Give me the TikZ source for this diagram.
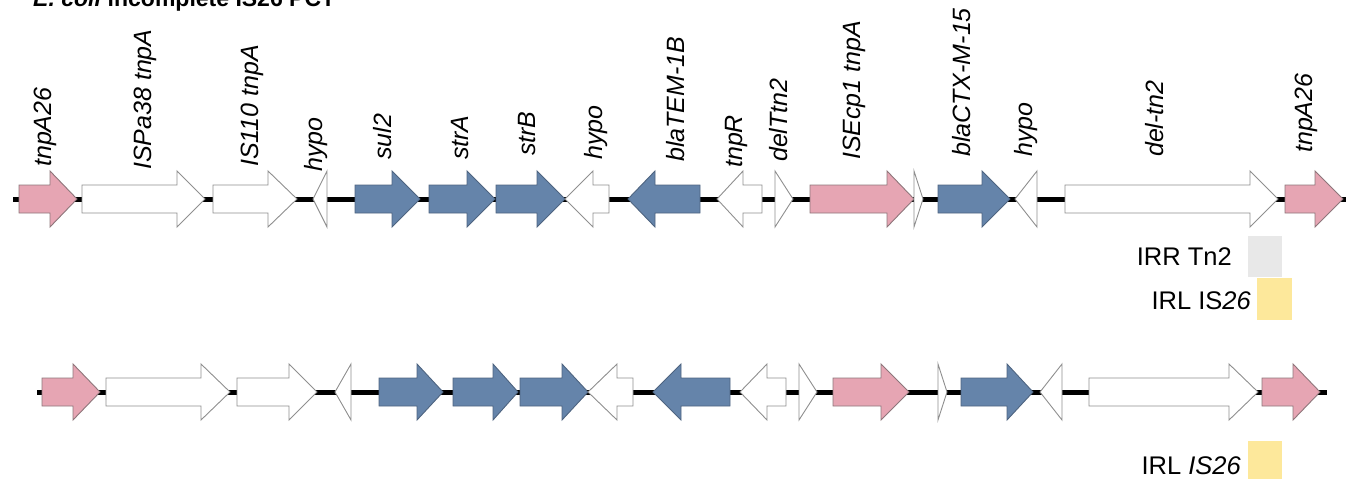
\documentclass[tikz,border=0pt]{standalone}
\usepackage{fontspec}
\setmainfont{Liberation Sans}

\definecolor{genepink}{HTML}{E6A5B3}
\definecolor{pinkedge}{HTML}{8E767B}
\definecolor{geneblue}{HTML}{6584AA}
\definecolor{blueedge}{HTML}{4E6480}
\definecolor{whiteedge}{HTML}{8F8F8F}
\definecolor{irrgray}{HTML}{E8E8E8}
\definecolor{irlyellow}{HTML}{FDE89B}

% body half-height 14, head half-height 28
\newcommand\genearrow[5]{\draw[#1] ({#2},{#5-14}) -- ({#3},{#5-14}) -- ({#3},{#5-28}) -- ({#4},{#5}) -- ({#3},{#5+28}) -- ({#3},{#5+14}) -- ({#2},{#5+14}) -- cycle;}
\newcommand\headonly[4]{\draw[#1] ({#2},{#4-28}) -- ({#3},{#4}) -- ({#2},{#4+28}) -- cycle;}
\newcommand\glabel[4]{\node[glab] (#1) at ({#2},{#3}) {\rotatebox{90}{\itshape #4}};}

\begin{document}
\begin{tikzpicture}[x=1pt,y=-1pt,
  pinkgene/.style={fill=genepink,draw=pinkedge,line width=0.9pt,line join=miter},
  bluegene/.style={fill=geneblue,draw=blueedge,line width=0.9pt,line join=miter},
  whitegene/.style={fill=white,draw=whiteedge,line width=0.9pt,line join=miter},
  backbone/.style={line width=5pt,black},
  glab/.style={anchor=south,inner sep=0pt,font=\fontsize{25}{29}\selectfont},
  keytext/.style={anchor=east,inner sep=0pt,font=\fontsize{25.5}{29}\selectfont}]
\useasboundingbox (0,0) rectangle (1346,479);

% heading (partly above the page edge)
\node[anchor=base west,inner sep=0pt,font=\bfseries\fontsize{23}{26}\selectfont] (title) at (33,6) {\textit{E. coli} incomplete IS26 PCT};

% ---------- upper map ----------
\coordinate (ua) at (13,199);
\coordinate (ub) at (1346,199);
\draw[backbone] (ua) -- (ub);
\genearrow{pinkgene}{19}{50}{77}{199}
\genearrow{whitegene}{82}{177}{205}{199}
\genearrow{whitegene}{213}{268}{297}{199}
\headonly{whitegene}{327}{313}{199}
\genearrow{bluegene}{355}{392}{420}{199}
\genearrow{bluegene}{429}{467}{495}{199}
\genearrow{bluegene}{496}{537}{565}{199}
\genearrow{whitegene}{609}{593}{565}{199}
\genearrow{bluegene}{700}{655}{628}{199}
\genearrow{whitegene}{762}{743}{717}{199}
\headonly{whitegene}{775}{793}{199}
\genearrow{pinkgene}{810}{887}{914}{199}
\headonly{whitegene}{914}{923}{199}
\genearrow{bluegene}{938}{982}{1010}{199}
\headonly{whitegene}{1037}{1015}{199}
\genearrow{whitegene}{1065}{1250}{1278}{199}
\genearrow{pinkgene}{1285}{1315}{1343}{199}

\glabel{l1}{45}{167}{tnpA26}
\glabel{l2}{145}{170}{ISPa38 tnpA}
\glabel{l3}{252}{167}{IS110 tnpA}
\glabel{l4}{316}{172}{hypo}
\glabel{l5}{383}{160}{sul2}
\glabel{l6}{460}{160}{strA}
\glabel{l7}{527}{156}{strB}
\glabel{l8}{596}{160}{hypo}
\glabel{l9}{676}{162}{blaTEM-1B}
\glabel{l10}{736}{168}{tnpR}
\glabel{l11}{779}{162}{delTtn2}
\glabel{l12}{854}{160}{ISEcp1 tnpA}
\glabel{l13}{962}{157}{blaCTX-M-15}
\glabel{l14}{1026}{157}{hypo}
\glabel{l15}{1155}{157}{del-tn2}
\glabel{l16}{1306}{153}{tnpA26}

% inverted repeats, upper map
\fill[irrgray] (1248,236) rectangle (1282,277);
\fill[irlyellow] (1257,278) rectangle (1292,320);
\node[keytext] (irr) at (1232,257) {IRR Tn2};
\node[keytext] (irl1) at (1251,301) {IRL IS\textit{26}};

% ---------- lower map ----------
\coordinate (la) at (37,392);
\coordinate (lb) at (1327,392);
\draw[backbone] (la) -- (lb);
\genearrow{pinkgene}{42}{73}{100}{392}
\genearrow{whitegene}{106}{201}{230}{392}
\genearrow{whitegene}{237}{289}{317}{392}
\headonly{whitegene}{351}{335}{392}
\genearrow{bluegene}{379}{417}{443}{392}
\genearrow{bluegene}{453}{493}{518}{392}
\genearrow{bluegene}{520}{562}{588}{392}
\genearrow{whitegene}{633}{617}{588}{392}
\genearrow{bluegene}{730}{681}{653}{392}
\genearrow{whitegene}{786}{767}{740}{392}
\headonly{whitegene}{799}{817}{392}
\genearrow{pinkgene}{833}{881}{909}{392}
\headonly{whitegene}{938}{947}{392}
\genearrow{bluegene}{961}{1007}{1033}{392}
\headonly{whitegene}{1062}{1040}{392}
\genearrow{whitegene}{1089}{1229}{1258}{392}
\genearrow{pinkgene}{1262}{1293}{1320}{392}

\fill[irlyellow] (1248,441) rectangle (1282,479);
\node[keytext] (irl2) at (1241,466) {IRL \textit{IS26}};
\end{tikzpicture}
\end{document}
